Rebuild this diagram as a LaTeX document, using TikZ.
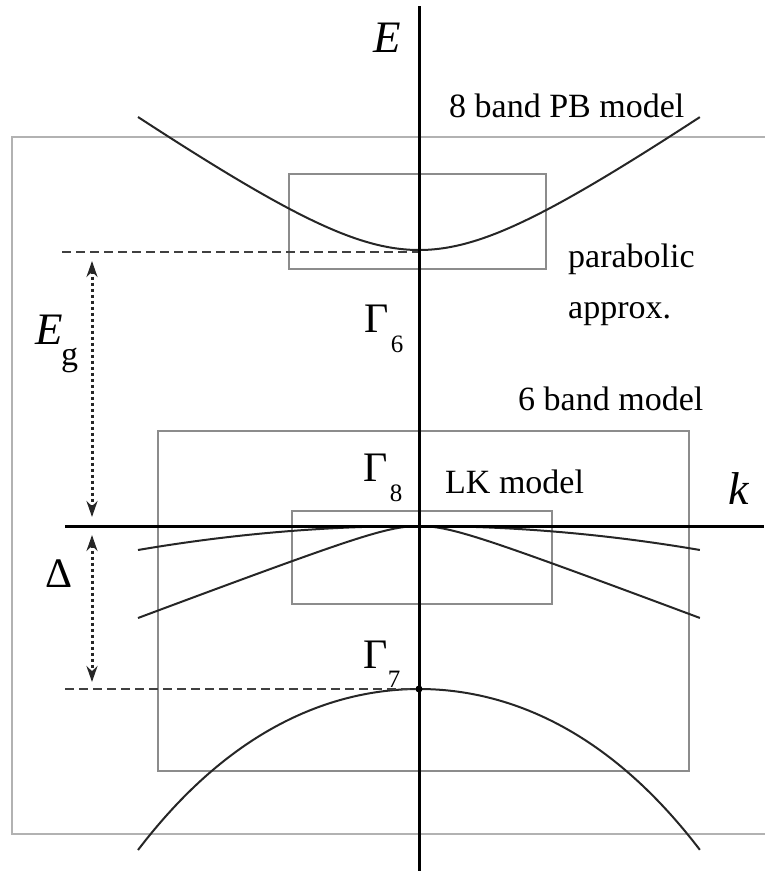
\documentclass[tikz,border=0pt]{standalone}
\usepackage{fontspec}
\setmainfont{Liberation Serif}
\usetikzlibrary{arrows.meta}
\begin{document}
\begin{tikzpicture}[x=1pt,y=-1pt,
  axis/.style={line width=3pt,black},
  band/.style={line width=2pt,black!85,smooth},
  region/.style={line width=1.4pt,black!45},
  outer/.style={line width=2.6pt,black!30},
  level/.style={line width=2.2pt,black!75,dash pattern=on 9pt off 5pt},
  gaparrow/.style={line width=3pt,black!85,dash pattern=on 3pt off 3pt,
    {Stealth[length=16pt,width=11pt]}-{Stealth[length=16pt,width=11pt]}},
  lbl/.style={inner sep=0pt,anchor=base west,font=\fontsize{34}{34}\selectfont},
  biglbl/.style={inner sep=0pt,font=\fontsize{42}{42}\selectfont},
  sublbl/.style={inner sep=0pt,font=\fontsize{25}{25}\selectfont},
  itlbl/.style={inner sep=0pt,font=\fontsize{45}{45}\selectfont\itshape}
]
\useasboundingbox (0,0) rectangle (764,871);

% outer frame (8 band PB model)
\draw[outer] (770,137) -- (12,137) -- (12,834) -- (770,834);
% 6 band model box
\draw[region] (158,431) rectangle (689,771);
% parabolic approx box
\draw[region] (289,174) rectangle (546,269);
% LK model box
\draw[region] (292,511) rectangle (552,604);

% bands
\draw[band] plot[domain=-1:1,samples=121] ({419+281*\x},{250-80*(sqrt(1+6.089*\x*\x)-1)});
\draw[band] plot[domain=-1:1,samples=121] ({419+281*\x},{526+24*\x*\x});
\draw[band] plot[domain=-1:1,samples=121] ({419+281*\x},{526+15*(sqrt(1+49.88*\x*\x)-1)});
\draw[band] plot[domain=-1:1,samples=121] ({419+281*\x},{689+138.2*\x*\x+22.8*\x*\x*\x*\x});

% coordinates
\coordinate (Etop) at (419,6);
\coordinate (Ebot) at (419,871);
\coordinate (kleft) at (65,526);
\coordinate (kright) at (764,526);
\coordinate (cbmin) at (419,252);
\coordinate (cbleft) at (62,252);
\coordinate (soleft) at (65,689);
\coordinate (egtop) at (92,261);
\coordinate (egbot) at (92,517);
\coordinate (dtop) at (92,535);
\coordinate (dbot) at (92,682);

% level lines
\draw[level] (cbleft) -- (cbmin);
\draw[level] (soleft) -- (419,689);
\node[circle,fill=black,inner sep=0pt,minimum size=7pt] (g7dot) at (419,689) {};

% axes
\draw[axis] (Etop) -- (Ebot);
\draw[axis] (kleft) -- (kright);

% gap arrows
\draw[gaparrow] (egtop) -- (egbot);
\draw[gaparrow] (dtop) -- (dbot);

% labels
\node[itlbl] (Elbl) at (387,38) {E};
\node[itlbl,font=\fontsize{46}{46}\selectfont\itshape] (klbl) at (739,489) {k};
\node[itlbl] (Eglbl) at (49,330) {E};
\node[inner sep=0pt,font=\fontsize{34}{34}\selectfont] (gsub) at (69.5,360) {g};
\node[biglbl] (Dlbl) at (59,574) {Δ};

\node[biglbl] (G6) at (377,319) {Γ};
\node[sublbl] (G6s) at (397,344) {6};
\node[biglbl] (G8) at (376,468) {Γ};
\node[sublbl] (G8s) at (396,493) {8};
\node[biglbl] (G7) at (376,655) {Γ};
\node[sublbl] (G7s) at (394,679) {7};

\node[lbl] (pb) at (449,117) {8 band PB model};
\node[lbl] (par1) at (568,267) {parabolic};
\node[lbl] (par2) at (568,318) {approx.};
\node[lbl] (six) at (518,410) {6 band model};
\node[lbl] (lk) at (445,493) {LK model};
\end{tikzpicture}
\end{document}
